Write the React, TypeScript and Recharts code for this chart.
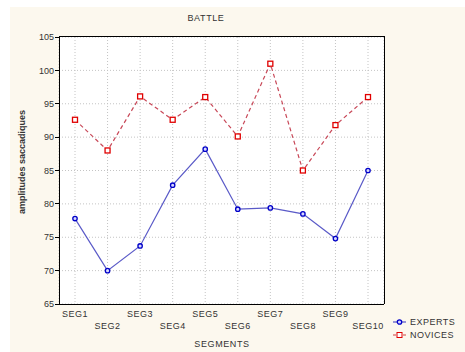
import {
    LineChart,
    Line,
    XAxis,
    YAxis,
    CartesianGrid,
    Legend
} from 'recharts'

const segments = ['SEG1', 'SEG2', 'SEG3', 'SEG4', 'SEG5', 'SEG6', 'SEG7', 'SEG8', 'SEG9', 'SEG10']
const experts = [77.8, 70.0, 73.7, 82.8, 88.2, 79.2, 79.4, 78.5, 74.8, 85.0]
const novices = [92.6, 88.0, 96.1, 92.6, 96.0, 90.1, 101.0, 85.0, 91.8, 96.0]
const yTicks = [65, 70, 75, 80, 85, 90, 95, 100, 105]

const data = segments.map((seg, i) => ({
    seg,
    experts: experts[i],
    novices: novices[i]
}))

const font = 'Arial, "Liberation Sans", sans-serif'

function SegTick({ x, y, payload, index }: any) {
    return (
        <text
            x={x}
            y={y + (index % 2 ? 22 : 10)}
            textAnchor="middle"
            dominantBaseline="central"
            fontSize={9}
            letterSpacing={0.5}
            fill="#333"
            fontFamily={font}
        >
            {payload.value}
        </text>
    )
}

function CircleDot({ cx, cy }: any) {
    return <circle cx={cx} cy={cy} r={2.2} fill="#d8d8ff" stroke="#0000c8" strokeWidth={1.3} />
}

function SquareDot({ cx, cy }: any) {
    return <rect x={cx - 2.5} y={cy - 2.5} width={5} height={5} fill="#fff" stroke="#e00000" strokeWidth={1.3} />
}

function LegendBox() {
    const rows = [
        { name: 'EXPERTS', color: '#3030c0', dash: undefined, square: false },
        { name: 'NOVICES', color: '#d04040', dash: '3 2', square: true }
    ]
    return (
        <div style={{ fontFamily: font, fontSize: 9, color: '#333', letterSpacing: 0.5 }}>
            {rows.map(r => (
                <div key={r.name} style={{ display: 'flex', alignItems: 'center', height: 13 }}>
                    <svg width={14} height={8} style={{ marginRight: 3 }}>
                        <line x1={0} y1={4} x2={13} y2={4} stroke={r.color} strokeDasharray={r.dash} />
                        {r.square
                            ? <rect x={4} y={1.5} width={5} height={5} fill="#fff" stroke="#e00000" />
                            : <circle cx={6.5} cy={4} r={2.2} fill="#d8d8ff" stroke="#0000c8" strokeWidth={1.3} />}
                    </svg>
                    {r.name}
                </div>
            ))}
        </div>
    )
}

export default function App() {
    return (
        <div style={{ position: 'fixed', left: 0, top: 0, width: 465, height: 352, background: '#fff' }}>
            <div style={{ position: 'absolute', left: 10, top: 7, width: 455, height: 345, background: '#fcf8ee' }} />
            <div style={{ position: 'absolute', left: 0, top: 0 }}>
                <LineChart width={465} height={352} data={data} margin={{ top: 37, right: 81, bottom: 8, left: 19 }}>
                    <CartesianGrid fill="#fff" stroke="#c4c4c4" strokeDasharray="1 2" />
                    <XAxis
                        dataKey="seg"
                        scale="point"
                        padding={{ left: 16, right: 16 }}
                        height={40}
                        tickSize={0}
                        tickMargin={0}
                        tick={<SegTick />}
                        interval={0}
                        axisLine={{ stroke: '#000', shapeRendering: 'crispEdges' }}
                    />
                    <YAxis
                        domain={[65, 105]}
                        ticks={yTicks}
                        width={40}
                        tickSize={4}
                        tickMargin={1}
                        tick={{ fontSize: 9, fill: '#333', fontFamily: font }}
                        tickLine={{ stroke: '#000', shapeRendering: 'crispEdges' }}
                        axisLine={{ stroke: '#000', shapeRendering: 'crispEdges' }}
                    />
                    <Line
                        dataKey="experts"
                        name="EXPERTS"
                        stroke="#5a5ac8"
                        strokeWidth={1.2}
                        dot={<CircleDot />}
                        isAnimationActive={false}
                    />
                    <Line
                        dataKey="novices"
                        name="NOVICES"
                        stroke="#c84858"
                        strokeWidth={1.2}
                        strokeDasharray="4 3"
                        dot={<SquareDot />}
                        isAnimationActive={false}
                    />
                    <Legend
                        layout="vertical"
                        align="center"
                        verticalAlign="middle"
                        wrapperStyle={{ left: 393, top: 315, width: 72 }}
                        content={<LegendBox />}
                    />
                </LineChart>
            </div>
            {/* frame around the plot area */}
            <div style={{ position: 'absolute', left: 59, top: 36, width: 326, height: 268, boxSizing: 'border-box', borderTop: '1px solid #000', borderRight: '1px solid #000', pointerEvents: 'none' }} />
            <div style={{ position: 'absolute', left: 156, top: 13, width: 100, textAlign: 'center', fontFamily: font, fontSize: 9, letterSpacing: 0.6, color: '#333' }}>
                BATTLE
            </div>
            <div style={{ position: 'absolute', left: 172, top: 339, width: 100, textAlign: 'center', fontFamily: font, fontSize: 9, letterSpacing: 0.6, color: '#333' }}>
                SEGMENTS
            </div>
            <div style={{ position: 'absolute', left: 22, top: 163, width: 0, height: 0 }}>
                <div style={{ position: 'absolute', left: -70, top: -6, width: 140, textAlign: 'center', transform: 'rotate(-90deg)', fontFamily: font, fontSize: 9, fontWeight: 'bold', color: '#333', whiteSpace: 'nowrap' }}>
                    amplitudes saccadiques
                </div>
            </div>
        </div>
    )
}
